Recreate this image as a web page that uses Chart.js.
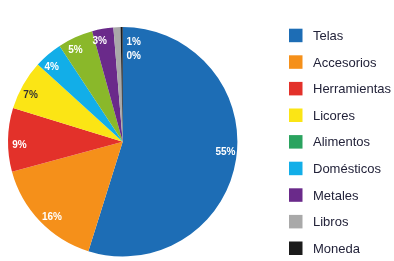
<!DOCTYPE html>
<html>
<head>
<meta charset="utf-8">
<script src="https://cdn.jsdelivr.net/npm/chart.js@4/dist/chart.umd.min.js"></script>
<style>
  html, body { margin: 0; padding: 0; background: #fff; }
  #wrap { width: 394px; height: 261px; position: relative; }
</style>
</head>
<body>
<div id="wrap"><canvas id="pie"></canvas></div>
<script>
// legend entries (as listed on the right)
const legendNames = ["Telas", "Accesorios", "Herramientas", "Licores", "Alimentos", "Domésticos", "Metales", "Libros", "Moneda"];
const legendColors = ["#1d6db5", "#f5901a", "#e3312a", "#fbe515", "#2aa35f", "#12aee8", "#6a2a8a", "#a9a9a9", "#1b1b1b"];

// pie slices, clockwise from the top
const sliceNames = ["Telas", "Accesorios", "Herramientas", "Licores", "Domésticos", "Alimentos", "Metales", "Libros", "Moneda"];
const sliceValues = [55, 16, 9, 7, 4, 5, 3, 1, 0.3];
const sliceLabels = ["55%", "16%", "9%", "7%", "4%", "5%", "3%", "1%", "0%"];
const sliceColors = ["#1d6db5", "#f5901a", "#e3312a", "#fbe515", "#12aee8", "#8ab82a", "#6a2a8a", "#a9a9a9", "#1b1b1b"];
const labelColors = ["#fff", "#fff", "#fff", "#333", "#fff", "#fff", "#fff", "#fff", "#fff"];

// percentage text on the slices
const percentLabels = {
  id: "percentLabels",
  afterDatasetsDraw(chart) {
    const ctx = chart.ctx;
    const meta = chart.getDatasetMeta(0);
    ctx.save();
    ctx.font = "bold 10px 'Liberation Sans', Arial, sans-serif";
    ctx.textAlign = "center";
    ctx.textBaseline = "middle";
    let small = 0;
    meta.data.forEach((arc, i) => {
      const { x, y, startAngle, endAngle, outerRadius } = arc.getProps(["x", "y", "startAngle", "endAngle", "outerRadius"], true);
      let px, py;
      if (sliceValues[i] < 2) {
        // tiny slices: stacked just right of the top
        px = x + 11;
        py = y - outerRadius * 0.87 + small * 14;
        small++;
      } else {
        const mid = (startAngle + endAngle) / 2 - 0.05;
        px = x + Math.cos(mid) * outerRadius * 0.9;
        py = y + Math.sin(mid) * outerRadius * 0.9;
      }
      ctx.fillStyle = labelColors[i];
      ctx.fillText(sliceLabels[i], px, py);
    });
    ctx.restore();
  }
};

// legend on the right, one column
const sideLegend = {
  id: "sideLegend",
  afterDraw(chart) {
    const ctx = chart.ctx;
    const left = 289, top = 28.7, step = 26.6, box = 13.5;
    ctx.save();
    ctx.font = "13px 'Liberation Sans', Arial, sans-serif";
    ctx.textAlign = "left";
    ctx.textBaseline = "alphabetic";
    legendNames.forEach((name, i) => {
      const y = top + i * step;
      ctx.fillStyle = legendColors[i];
      ctx.fillRect(left, y, box, box);
      ctx.fillStyle = "#23233a";
      ctx.fillText(name, left + 24, y + 11.2);
    });
    ctx.restore();
  }
};

new Chart(document.getElementById("pie"), {
  type: "pie",
  data: {
    labels: sliceNames,
    datasets: [{
      data: sliceValues,
      backgroundColor: sliceColors,
      borderWidth: 0
    }]
  },
  options: {
    responsive: true,
    maintainAspectRatio: false,
    animation: false,
    layout: {
      padding: { left: 8, right: 156.6, top: 27, bottom: 4.5 }
    },
    plugins: {
      tooltip: { enabled: false },
      legend: { display: false }
    }
  },
  plugins: [percentLabels, sideLegend]
});
</script>
</body>
</html>
